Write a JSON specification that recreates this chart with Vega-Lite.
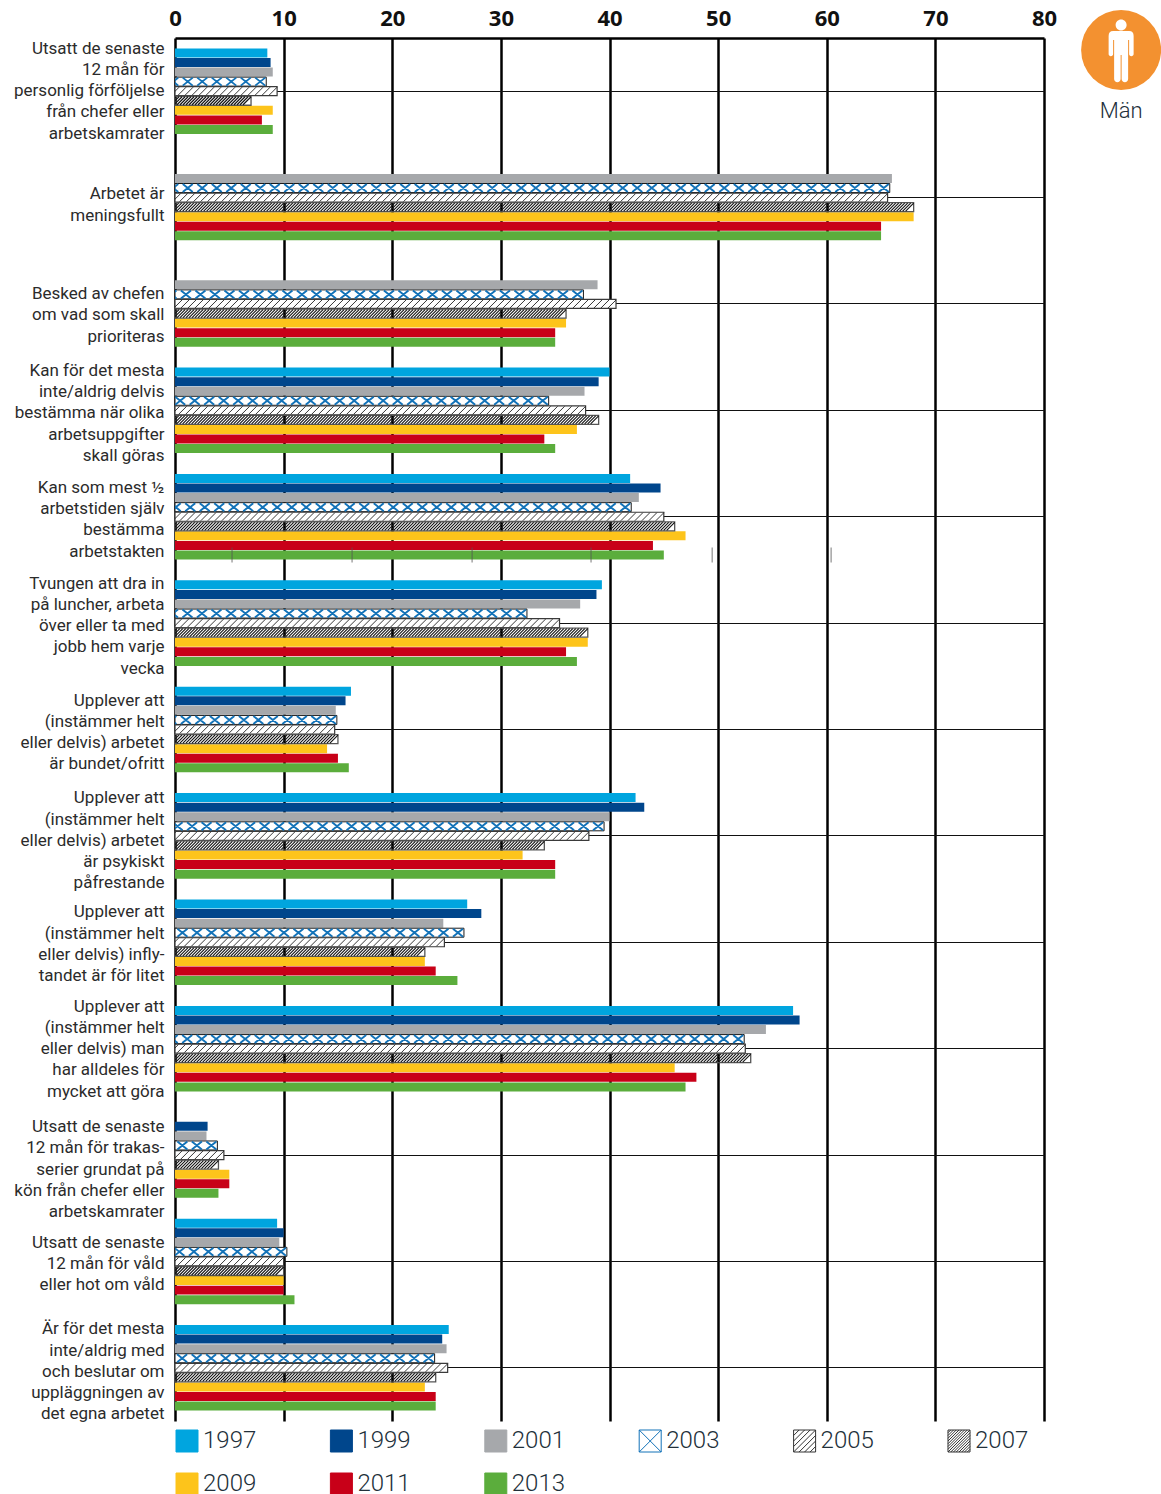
{"$schema":"https://vega.github.io/schema/vega-lite/v6.json","width":869,"height":1383,"autosize":{"type":"none"},"padding":{"left":175,"top":38,"right":117,"bottom":73},"background":"white","config":{"view":{"stroke":null},"font":"Roboto"},
"datasets":{"main":[
{"cat":"Utsatt de senaste|12 mån för|personlig förföljelse|från chefer eller|arbetskamrater","year":"1997","v":8.5},{"cat":"Utsatt de senaste|12 mån för|personlig förföljelse|från chefer eller|arbetskamrater","year":"1999","v":8.8},{"cat":"Utsatt de senaste|12 mån för|personlig förföljelse|från chefer eller|arbetskamrater","year":"2001","v":9},{"cat":"Utsatt de senaste|12 mån för|personlig förföljelse|från chefer eller|arbetskamrater","year":"2003","v":8.4},{"cat":"Utsatt de senaste|12 mån för|personlig förföljelse|från chefer eller|arbetskamrater","year":"2005","v":9.4},{"cat":"Utsatt de senaste|12 mån för|personlig förföljelse|från chefer eller|arbetskamrater","year":"2007","v":7},{"cat":"Utsatt de senaste|12 mån för|personlig förföljelse|från chefer eller|arbetskamrater","year":"2009","v":9},{"cat":"Utsatt de senaste|12 mån för|personlig förföljelse|från chefer eller|arbetskamrater","year":"2011","v":8},{"cat":"Utsatt de senaste|12 mån för|personlig förföljelse|från chefer eller|arbetskamrater","year":"2013","v":9},
{"cat":"Arbetet är|meningsfullt","year":"2001","v":66},{"cat":"Arbetet är|meningsfullt","year":"2003","v":65.8},{"cat":"Arbetet är|meningsfullt","year":"2005","v":65.6},{"cat":"Arbetet är|meningsfullt","year":"2007","v":68},{"cat":"Arbetet är|meningsfullt","year":"2009","v":68},{"cat":"Arbetet är|meningsfullt","year":"2011","v":65},{"cat":"Arbetet är|meningsfullt","year":"2013","v":65},
{"cat":"Besked av chefen|om vad som skall|prioriteras","year":"2001","v":38.9},{"cat":"Besked av chefen|om vad som skall|prioriteras","year":"2003","v":37.6},{"cat":"Besked av chefen|om vad som skall|prioriteras","year":"2005","v":40.6},{"cat":"Besked av chefen|om vad som skall|prioriteras","year":"2007","v":36},{"cat":"Besked av chefen|om vad som skall|prioriteras","year":"2009","v":36},{"cat":"Besked av chefen|om vad som skall|prioriteras","year":"2011","v":35},{"cat":"Besked av chefen|om vad som skall|prioriteras","year":"2013","v":35},
{"cat":"Kan för det mesta|inte/aldrig delvis|bestämma när olika|arbetsuppgifter|skall göras","year":"1997","v":40},{"cat":"Kan för det mesta|inte/aldrig delvis|bestämma när olika|arbetsuppgifter|skall göras","year":"1999","v":39},{"cat":"Kan för det mesta|inte/aldrig delvis|bestämma när olika|arbetsuppgifter|skall göras","year":"2001","v":37.7},{"cat":"Kan för det mesta|inte/aldrig delvis|bestämma när olika|arbetsuppgifter|skall göras","year":"2003","v":34.4},{"cat":"Kan för det mesta|inte/aldrig delvis|bestämma när olika|arbetsuppgifter|skall göras","year":"2005","v":37.8},{"cat":"Kan för det mesta|inte/aldrig delvis|bestämma när olika|arbetsuppgifter|skall göras","year":"2007","v":39},{"cat":"Kan för det mesta|inte/aldrig delvis|bestämma när olika|arbetsuppgifter|skall göras","year":"2009","v":37},{"cat":"Kan för det mesta|inte/aldrig delvis|bestämma när olika|arbetsuppgifter|skall göras","year":"2011","v":34},{"cat":"Kan för det mesta|inte/aldrig delvis|bestämma när olika|arbetsuppgifter|skall göras","year":"2013","v":35},
{"cat":"Kan som mest ½|arbetstiden själv|bestämma|arbetstakten","year":"1997","v":41.9},{"cat":"Kan som mest ½|arbetstiden själv|bestämma|arbetstakten","year":"1999","v":44.7},{"cat":"Kan som mest ½|arbetstiden själv|bestämma|arbetstakten","year":"2001","v":42.7},{"cat":"Kan som mest ½|arbetstiden själv|bestämma|arbetstakten","year":"2003","v":42},{"cat":"Kan som mest ½|arbetstiden själv|bestämma|arbetstakten","year":"2005","v":45},{"cat":"Kan som mest ½|arbetstiden själv|bestämma|arbetstakten","year":"2007","v":46},{"cat":"Kan som mest ½|arbetstiden själv|bestämma|arbetstakten","year":"2009","v":47},{"cat":"Kan som mest ½|arbetstiden själv|bestämma|arbetstakten","year":"2011","v":44},{"cat":"Kan som mest ½|arbetstiden själv|bestämma|arbetstakten","year":"2013","v":45},
{"cat":"Tvungen att dra in|på luncher, arbeta|över eller ta med|jobb hem varje|vecka","year":"1997","v":39.3},{"cat":"Tvungen att dra in|på luncher, arbeta|över eller ta med|jobb hem varje|vecka","year":"1999","v":38.8},{"cat":"Tvungen att dra in|på luncher, arbeta|över eller ta med|jobb hem varje|vecka","year":"2001","v":37.3},{"cat":"Tvungen att dra in|på luncher, arbeta|över eller ta med|jobb hem varje|vecka","year":"2003","v":32.4},{"cat":"Tvungen att dra in|på luncher, arbeta|över eller ta med|jobb hem varje|vecka","year":"2005","v":35.4},{"cat":"Tvungen att dra in|på luncher, arbeta|över eller ta med|jobb hem varje|vecka","year":"2007","v":38},{"cat":"Tvungen att dra in|på luncher, arbeta|över eller ta med|jobb hem varje|vecka","year":"2009","v":38},{"cat":"Tvungen att dra in|på luncher, arbeta|över eller ta med|jobb hem varje|vecka","year":"2011","v":36},{"cat":"Tvungen att dra in|på luncher, arbeta|över eller ta med|jobb hem varje|vecka","year":"2013","v":37},
{"cat":"Upplever att|(instämmer helt|eller delvis) arbetet|är bundet/ofritt","year":"1997","v":16.2},{"cat":"Upplever att|(instämmer helt|eller delvis) arbetet|är bundet/ofritt","year":"1999","v":15.7},{"cat":"Upplever att|(instämmer helt|eller delvis) arbetet|är bundet/ofritt","year":"2001","v":14.8},{"cat":"Upplever att|(instämmer helt|eller delvis) arbetet|är bundet/ofritt","year":"2003","v":14.9},{"cat":"Upplever att|(instämmer helt|eller delvis) arbetet|är bundet/ofritt","year":"2005","v":14.7},{"cat":"Upplever att|(instämmer helt|eller delvis) arbetet|är bundet/ofritt","year":"2007","v":15},{"cat":"Upplever att|(instämmer helt|eller delvis) arbetet|är bundet/ofritt","year":"2009","v":14},{"cat":"Upplever att|(instämmer helt|eller delvis) arbetet|är bundet/ofritt","year":"2011","v":15},{"cat":"Upplever att|(instämmer helt|eller delvis) arbetet|är bundet/ofritt","year":"2013","v":16},
{"cat":"Upplever att|(instämmer helt|eller delvis) arbetet|är psykiskt|påfrestande","year":"1997","v":42.4},{"cat":"Upplever att|(instämmer helt|eller delvis) arbetet|är psykiskt|påfrestande","year":"1999","v":43.2},{"cat":"Upplever att|(instämmer helt|eller delvis) arbetet|är psykiskt|påfrestande","year":"2001","v":40},{"cat":"Upplever att|(instämmer helt|eller delvis) arbetet|är psykiskt|påfrestande","year":"2003","v":39.5},{"cat":"Upplever att|(instämmer helt|eller delvis) arbetet|är psykiskt|påfrestande","year":"2005","v":38.1},{"cat":"Upplever att|(instämmer helt|eller delvis) arbetet|är psykiskt|påfrestande","year":"2007","v":34},{"cat":"Upplever att|(instämmer helt|eller delvis) arbetet|är psykiskt|påfrestande","year":"2009","v":32},{"cat":"Upplever att|(instämmer helt|eller delvis) arbetet|är psykiskt|påfrestande","year":"2011","v":35},{"cat":"Upplever att|(instämmer helt|eller delvis) arbetet|är psykiskt|påfrestande","year":"2013","v":35},
{"cat":"Upplever att|(instämmer helt|eller delvis) infly-|tandet är för litet","year":"1997","v":26.9},{"cat":"Upplever att|(instämmer helt|eller delvis) infly-|tandet är för litet","year":"1999","v":28.2},{"cat":"Upplever att|(instämmer helt|eller delvis) infly-|tandet är för litet","year":"2001","v":24.7},{"cat":"Upplever att|(instämmer helt|eller delvis) infly-|tandet är för litet","year":"2003","v":26.6},{"cat":"Upplever att|(instämmer helt|eller delvis) infly-|tandet är för litet","year":"2005","v":24.8},{"cat":"Upplever att|(instämmer helt|eller delvis) infly-|tandet är för litet","year":"2007","v":23},{"cat":"Upplever att|(instämmer helt|eller delvis) infly-|tandet är för litet","year":"2009","v":23},{"cat":"Upplever att|(instämmer helt|eller delvis) infly-|tandet är för litet","year":"2011","v":24},{"cat":"Upplever att|(instämmer helt|eller delvis) infly-|tandet är för litet","year":"2013","v":26},
{"cat":"Upplever att|(instämmer helt|eller delvis) man|har alldeles för|mycket att göra","year":"1997","v":56.9},{"cat":"Upplever att|(instämmer helt|eller delvis) man|har alldeles för|mycket att göra","year":"1999","v":57.5},{"cat":"Upplever att|(instämmer helt|eller delvis) man|har alldeles för|mycket att göra","year":"2001","v":54.4},{"cat":"Upplever att|(instämmer helt|eller delvis) man|har alldeles för|mycket att göra","year":"2003","v":52.4},{"cat":"Upplever att|(instämmer helt|eller delvis) man|har alldeles för|mycket att göra","year":"2005","v":52.5},{"cat":"Upplever att|(instämmer helt|eller delvis) man|har alldeles för|mycket att göra","year":"2007","v":53},{"cat":"Upplever att|(instämmer helt|eller delvis) man|har alldeles för|mycket att göra","year":"2009","v":46},{"cat":"Upplever att|(instämmer helt|eller delvis) man|har alldeles för|mycket att göra","year":"2011","v":48},{"cat":"Upplever att|(instämmer helt|eller delvis) man|har alldeles för|mycket att göra","year":"2013","v":47},
{"cat":"Utsatt de senaste|12 mån för trakas-|serier grundat på|kön från chefer eller|arbetskamrater","year":"1999","v":3},{"cat":"Utsatt de senaste|12 mån för trakas-|serier grundat på|kön från chefer eller|arbetskamrater","year":"2001","v":2.9},{"cat":"Utsatt de senaste|12 mån för trakas-|serier grundat på|kön från chefer eller|arbetskamrater","year":"2003","v":3.9},{"cat":"Utsatt de senaste|12 mån för trakas-|serier grundat på|kön från chefer eller|arbetskamrater","year":"2005","v":4.5},{"cat":"Utsatt de senaste|12 mån för trakas-|serier grundat på|kön från chefer eller|arbetskamrater","year":"2007","v":4},{"cat":"Utsatt de senaste|12 mån för trakas-|serier grundat på|kön från chefer eller|arbetskamrater","year":"2009","v":5},{"cat":"Utsatt de senaste|12 mån för trakas-|serier grundat på|kön från chefer eller|arbetskamrater","year":"2011","v":5},{"cat":"Utsatt de senaste|12 mån för trakas-|serier grundat på|kön från chefer eller|arbetskamrater","year":"2013","v":4},
{"cat":"Utsatt de senaste|12 mån för våld|eller hot om våld","year":"1997","v":9.4},{"cat":"Utsatt de senaste|12 mån för våld|eller hot om våld","year":"1999","v":10},{"cat":"Utsatt de senaste|12 mån för våld|eller hot om våld","year":"2001","v":9.6},{"cat":"Utsatt de senaste|12 mån för våld|eller hot om våld","year":"2003","v":10.3},{"cat":"Utsatt de senaste|12 mån för våld|eller hot om våld","year":"2005","v":10},{"cat":"Utsatt de senaste|12 mån för våld|eller hot om våld","year":"2007","v":10},{"cat":"Utsatt de senaste|12 mån för våld|eller hot om våld","year":"2009","v":10},{"cat":"Utsatt de senaste|12 mån för våld|eller hot om våld","year":"2011","v":10},{"cat":"Utsatt de senaste|12 mån för våld|eller hot om våld","year":"2013","v":11},
{"cat":"Är för det mesta|inte/aldrig med|och beslutar om|uppläggningen av|det egna arbetet","year":"1997","v":25.2},{"cat":"Är för det mesta|inte/aldrig med|och beslutar om|uppläggningen av|det egna arbetet","year":"1999","v":24.6},{"cat":"Är för det mesta|inte/aldrig med|och beslutar om|uppläggningen av|det egna arbetet","year":"2001","v":25},{"cat":"Är för det mesta|inte/aldrig med|och beslutar om|uppläggningen av|det egna arbetet","year":"2003","v":23.9},{"cat":"Är för det mesta|inte/aldrig med|och beslutar om|uppläggningen av|det egna arbetet","year":"2005","v":25.1},{"cat":"Är för det mesta|inte/aldrig med|och beslutar om|uppläggningen av|det egna arbetet","year":"2007","v":24},{"cat":"Är för det mesta|inte/aldrig med|och beslutar om|uppläggningen av|det egna arbetet","year":"2009","v":23},{"cat":"Är för det mesta|inte/aldrig med|och beslutar om|uppläggningen av|det egna arbetet","year":"2011","v":24},{"cat":"Är för det mesta|inte/aldrig med|och beslutar om|uppläggningen av|det egna arbetet","year":"2013","v":24}
],
"stray":[{"cat":"Kan som mest ½|arbetstiden själv|bestämma|arbetstakten","year":"2013","v":5.25},{"cat":"Kan som mest ½|arbetstiden själv|bestämma|arbetstakten","year":"2013","v":16.3},{"cat":"Kan som mest ½|arbetstiden själv|bestämma|arbetstakten","year":"2013","v":27.35},{"cat":"Kan som mest ½|arbetstiden själv|bestämma|arbetstakten","year":"2013","v":38.3},{"cat":"Kan som mest ½|arbetstiden själv|bestämma|arbetstakten","year":"2013","v":49.45},{"cat":"Kan som mest ½|arbetstiden själv|bestämma|arbetstakten","year":"2013","v":60.4}],
"icon":[{"v":87.1,"cat":"Utsatt de senaste|12 mån för|personlig förföljelse|från chefer eller|arbetskamrater","year":"2003","label":"Män"}]},
"data":{"name":"main"},
"encoding":{
"x":{"field":"v","type":"quantitative","title":null,"scale":{"domain":[0,80],"nice":false},"axis":{"orient":"top","values":[0,10,20,30,40,50,60,70,80],"grid":true,"gridColor":"#000000","gridWidth":2.5,"gridOpacity":1,"ticks":false,"domain":true,"domainColor":"#000000","domainWidth":2.5,"labelFont":"Open Sans","labelFontWeight":"bold","labelFontSize":22,"labelColor":"#111111","labelPadding":8,"labelFlush":false,"title":null}},
"y":{"field":"cat","type":"nominal","title":null,"scale":{"paddingInner":0.196,"paddingOuter":0.098,"domain":["Utsatt de senaste|12 mån för|personlig förföljelse|från chefer eller|arbetskamrater","Arbetet är|meningsfullt","Besked av chefen|om vad som skall|prioriteras","Kan för det mesta|inte/aldrig delvis|bestämma när olika|arbetsuppgifter|skall göras","Kan som mest ½|arbetstiden själv|bestämma|arbetstakten","Tvungen att dra in|på luncher, arbeta|över eller ta med|jobb hem varje|vecka","Upplever att|(instämmer helt|eller delvis) arbetet|är bundet/ofritt","Upplever att|(instämmer helt|eller delvis) arbetet|är psykiskt|påfrestande","Upplever att|(instämmer helt|eller delvis) infly-|tandet är för litet","Upplever att|(instämmer helt|eller delvis) man|har alldeles för|mycket att göra","Utsatt de senaste|12 mån för trakas-|serier grundat på|kön från chefer eller|arbetskamrater","Utsatt de senaste|12 mån för våld|eller hot om våld","Är för det mesta|inte/aldrig med|och beslutar om|uppläggningen av|det egna arbetet"]},"axis":{"grid":true,"gridColor":"#111111","gridWidth":1.2,"gridOpacity":1,"ticks":false,"domain":false,"title":null,"labelExpr":"split(datum.label,'|')","labelFontSize":17,"labelLineHeight":21.3,"labelColor":"#2b2b2b","labelPadding":11,"labelLimit":0,"labelFont":"Roboto","labelOffset":{"expr":"(1-length(split(datum.value,'|')))*10.65+(test(/personlig/,datum.value)?0:test(/^Arbetet/,datum.value)?7.5:test(/^Besked/,datum.value)?11.5:test(/trakas/,datum.value)?14.5:test(/psykiskt/,datum.value)?5:test(/infly/,datum.value)?2:test(/mycket/,datum.value)?0.5:test(/våld/,datum.value)?2.5:test(/^Är/,datum.value)?4:3)"}}},
"yOffset":{"field":"year","type":"nominal","title":null,"scale":{"domain":["1997","1999","2001","2003","2005","2007","2009","2011","2013"],"paddingInner":0.06,"paddingOuter":0}}
},
"layer":[
{"transform":[{"filter":"indexof(['1997','1999','2001','2009','2011','2013'],datum.year)>=0"}],"mark":{"type":"bar"},"encoding":{"fill":{"field":"year","type":"nominal","scale":{"domain":["1997","1999","2001","2003","2005","2007","2009","2011","2013"],"range":["#00A5DF","#00468C","#A6A8AB","#ffffff","#ffffff","#ffffff","#FDC41B","#C80018","#5BAD3C"]},"legend":{"orient":"none","legendX":0,"legendY":1391,"columns":6,"direction":"horizontal","title":null,"symbolSize":4,"symbolStrokeWidth":1,"symbolOpacity":1,"labelFont":"Roboto","labelFontWeight":300,"labelFontSize":24,"labelColor":"#22303a","labelOffset":4,"columnPadding":71.4,"rowPadding":17,"gridAlign":"all","encode":{"symbols":{"update":{"fill":{"scale":"fill","field":"value"}}}}}}}},
{"transform":[{"filter":"datum.year=='2003'"}],"mark":{"type":"bar","fill":"#ffffff","stroke":"#1a1a1a","strokeWidth":1}},
{"transform":[{"filter":"datum.year=='2005'"}],"mark":{"type":"bar","fill":"#ffffff","stroke":"#3a3a3a","strokeWidth":1.2}},
{"transform":[{"filter":"datum.year=='2007'"}],"mark":{"type":"bar","fill":"transparent","stroke":"#555555","strokeWidth":1.3}},
{"transform":[{"filter":"datum.year=='2003'"}],"mark":{"type":"point","clip":true,"filled":false,"opacity":1,"size":4,"stroke":"#1272B8","strokeWidth":1.9,"shape":"M-11-4l10 8m-10 0l10-8m-24.5 0l10 8m-10 0l10-8m-24.5 0l10 8m-10 0l10-8m-24.5 0l10 8m-10 0l10-8m-24.5 0l10 8m-10 0l10-8m-24.5 0l10 8m-10 0l10-8m-24.5 0l10 8m-10 0l10-8m-24.5 0l10 8m-10 0l10-8m-24.5 0l10 8m-10 0l10-8m-24.5 0l10 8m-10 0l10-8m-24.5 0l10 8m-10 0l10-8m-24.5 0l10 8m-10 0l10-8m-24.5 0l10 8m-10 0l10-8m-24.5 0l10 8m-10 0l10-8m-24.5 0l10 8m-10 0l10-8m-24.5 0l10 8m-10 0l10-8m-24.5 0l10 8m-10 0l10-8m-24.5 0l10 8m-10 0l10-8m-24.5 0l10 8m-10 0l10-8m-24.5 0l10 8m-10 0l10-8m-24.5 0l10 8m-10 0l10-8m-24.5 0l10 8m-10 0l10-8m-24.5 0l10 8m-10 0l10-8m-24.5 0l10 8m-10 0l10-8m-24.5 0l10 8m-10 0l10-8m-24.5 0l10 8m-10 0l10-8m-24.5 0l10 8m-10 0l10-8m-24.5 0l10 8m-10 0l10-8m-24.5 0l10 8m-10 0l10-8m-24.5 0l10 8m-10 0l10-8m-24.5 0l10 8m-10 0l10-8m-24.5 0l10 8m-10 0l10-8m-24.5 0l10 8m-10 0l10-8m-24.5 0l10 8m-10 0l10-8m-24.5 0l10 8m-10 0l10-8m-24.5 0l10 8m-10 0l10-8m-24.5 0l10 8m-10 0l10-8m-24.5 0l10 8m-10 0l10-8m-24.5 0l10 8m-10 0l10-8m-24.5 0l10 8m-10 0l10-8m-24.5 0l10 8m-10 0l10-8m-24.5 0l10 8m-10 0l10-8m-24.5 0l10 8m-10 0l10-8m-24.5 0l10 8m-10 0l10-8m-24.5 0l10 8m-10 0l10-8m-24.5 0l10 8m-10 0l10-8m-24.5 0l10 8m-10 0l10-8m-24.5 0l10 8m-10 0l10-8m-24.5 0l10 8m-10 0l10-8m-24.5 0l10 8m-10 0l10-8m-24.5 0l10 8m-10 0l10-8m-24.5 0l10 8m-10 0l10-8"}},
{"transform":[{"filter":"datum.year=='2005'"}],"mark":{"type":"point","clip":true,"filled":false,"opacity":1,"size":4,"stroke":"#222222","strokeWidth":0.9,"shape":"M-8 4l8-8m-15 8l8-8m-15 8l8-8m-15 8l8-8m-15 8l8-8m-15 8l8-8m-15 8l8-8m-15 8l8-8m-15 8l8-8m-15 8l8-8m-15 8l8-8m-15 8l8-8m-15 8l8-8m-15 8l8-8m-15 8l8-8m-15 8l8-8m-15 8l8-8m-15 8l8-8m-15 8l8-8m-15 8l8-8m-15 8l8-8m-15 8l8-8m-15 8l8-8m-15 8l8-8m-15 8l8-8m-15 8l8-8m-15 8l8-8m-15 8l8-8m-15 8l8-8m-15 8l8-8m-15 8l8-8m-15 8l8-8m-15 8l8-8m-15 8l8-8m-15 8l8-8m-15 8l8-8m-15 8l8-8m-15 8l8-8m-15 8l8-8m-15 8l8-8m-15 8l8-8m-15 8l8-8m-15 8l8-8m-15 8l8-8m-15 8l8-8m-15 8l8-8m-15 8l8-8m-15 8l8-8m-15 8l8-8m-15 8l8-8m-15 8l8-8m-15 8l8-8m-15 8l8-8m-15 8l8-8m-15 8l8-8m-15 8l8-8m-15 8l8-8m-15 8l8-8m-15 8l8-8m-15 8l8-8m-15 8l8-8m-15 8l8-8m-15 8l8-8m-15 8l8-8m-15 8l8-8m-15 8l8-8m-15 8l8-8m-15 8l8-8m-15 8l8-8m-15 8l8-8m-15 8l8-8m-15 8l8-8m-15 8l8-8m-15 8l8-8m-15 8l8-8m-15 8l8-8m-15 8l8-8m-15 8l8-8m-15 8l8-8m-15 8l8-8m-15 8l8-8m-15 8l8-8m-15 8l8-8m-15 8l8-8m-15 8l8-8m-15 8l8-8m-15 8l8-8m-15 8l8-8m-15 8l8-8m-15 8l8-8m-15 8l8-8m-15 8l8-8m-15 8l8-8m-15 8l8-8m-15 8l8-8m-15 8l8-8m-15 8l8-8m-15 8l8-8m-15 8l8-8m-15 8l8-8m-15 8l8-8m-15 8l8-8m-15 8l8-8m-15 8l8-8m-15 8l8-8m-15 8l8-8m-15 8l8-8m-15 8l8-8m-15 8l8-8m-15 8l8-8m-15 8l8-8m-15 8l8-8m-15 8l8-8m-15 8l8-8m-15 8l8-8"}},
{"transform":[{"filter":"datum.year=='2007'"}],"mark":{"type":"point","clip":true,"filled":false,"opacity":1,"size":4,"stroke":"#111111","strokeWidth":1.1,"shape":"M-8 4l8-8m-11 8l8-8m-11 8l8-8m-11 8l8-8m-11 8l8-8m-11 8l8-8m-11 8l8-8m-11 8l8-8m-11 8l8-8m-11 8l8-8m-11 8l8-8m-11 8l8-8m-11 8l8-8m-11 8l8-8m-11 8l8-8m-11 8l8-8m-11 8l8-8m-11 8l8-8m-11 8l8-8m-11 8l8-8m-11 8l8-8m-11 8l8-8m-11 8l8-8m-11 8l8-8m-11 8l8-8m-11 8l8-8m-11 8l8-8m-11 8l8-8m-11 8l8-8m-11 8l8-8m-11 8l8-8m-11 8l8-8m-11 8l8-8m-11 8l8-8m-11 8l8-8m-11 8l8-8m-11 8l8-8m-11 8l8-8m-11 8l8-8m-11 8l8-8m-11 8l8-8m-11 8l8-8m-11 8l8-8m-11 8l8-8m-11 8l8-8m-11 8l8-8m-11 8l8-8m-11 8l8-8m-11 8l8-8m-11 8l8-8m-11 8l8-8m-11 8l8-8m-11 8l8-8m-11 8l8-8m-11 8l8-8m-11 8l8-8m-11 8l8-8m-11 8l8-8m-11 8l8-8m-11 8l8-8m-11 8l8-8m-11 8l8-8m-11 8l8-8m-11 8l8-8m-11 8l8-8m-11 8l8-8m-11 8l8-8m-11 8l8-8m-11 8l8-8m-11 8l8-8m-11 8l8-8m-11 8l8-8m-11 8l8-8m-11 8l8-8m-11 8l8-8m-11 8l8-8m-11 8l8-8m-11 8l8-8m-11 8l8-8m-11 8l8-8m-11 8l8-8m-11 8l8-8m-11 8l8-8m-11 8l8-8m-11 8l8-8m-11 8l8-8m-11 8l8-8m-11 8l8-8m-11 8l8-8m-11 8l8-8m-11 8l8-8m-11 8l8-8m-11 8l8-8m-11 8l8-8m-11 8l8-8m-11 8l8-8m-11 8l8-8m-11 8l8-8m-11 8l8-8m-11 8l8-8m-11 8l8-8m-11 8l8-8m-11 8l8-8m-11 8l8-8m-11 8l8-8m-11 8l8-8m-11 8l8-8m-11 8l8-8m-11 8l8-8m-11 8l8-8m-11 8l8-8m-11 8l8-8m-11 8l8-8m-11 8l8-8m-11 8l8-8m-11 8l8-8m-11 8l8-8m-11 8l8-8m-11 8l8-8m-11 8l8-8m-11 8l8-8m-11 8l8-8m-11 8l8-8m-11 8l8-8m-11 8l8-8m-11 8l8-8m-11 8l8-8m-11 8l8-8m-11 8l8-8m-11 8l8-8m-11 8l8-8m-11 8l8-8m-11 8l8-8m-11 8l8-8m-11 8l8-8m-11 8l8-8m-11 8l8-8m-11 8l8-8m-11 8l8-8m-11 8l8-8m-11 8l8-8m-11 8l8-8m-11 8l8-8m-11 8l8-8m-11 8l8-8m-11 8l8-8m-11 8l8-8m-11 8l8-8m-11 8l8-8m-11 8l8-8m-11 8l8-8m-11 8l8-8m-11 8l8-8m-11 8l8-8m-11 8l8-8m-11 8l8-8m-11 8l8-8m-11 8l8-8m-11 8l8-8m-11 8l8-8m-11 8l8-8m-11 8l8-8m-11 8l8-8m-11 8l8-8m-11 8l8-8m-11 8l8-8m-11 8l8-8m-11 8l8-8m-11 8l8-8m-11 8l8-8m-11 8l8-8m-11 8l8-8m-11 8l8-8m-11 8l8-8m-11 8l8-8m-11 8l8-8m-11 8l8-8m-11 8l8-8m-11 8l8-8m-11 8l8-8m-11 8l8-8m-11 8l8-8m-11 8l8-8m-11 8l8-8m-11 8l8-8m-11 8l8-8m-11 8l8-8m-11 8l8-8m-11 8l8-8m-11 8l8-8m-11 8l8-8m-11 8l8-8m-11 8l8-8m-11 8l8-8m-11 8l8-8m-11 8l8-8m-11 8l8-8m-11 8l8-8m-11 8l8-8m-11 8l8-8m-11 8l8-8m-11 8l8-8m-11 8l8-8m-11 8l8-8m-11 8l8-8m-11 8l8-8m-11 8l8-8m-11 8l8-8m-11 8l8-8m-11 8l8-8m-11 8l8-8m-11 8l8-8m-11 8l8-8m-11 8l8-8m-11 8l8-8m-11 8l8-8m-11 8l8-8m-11 8l8-8m-11 8l8-8m-11 8l8-8m-11 8l8-8m-11 8l8-8m-11 8l8-8m-11 8l8-8m-11 8l8-8m-11 8l8-8m-11 8l8-8m-11 8l8-8m-11 8l8-8m-11 8l8-8m-11 8l8-8m-11 8l8-8m-11 8l8-8m-11 8l8-8m-11 8l8-8m-11 8l8-8m-11 8l8-8m-11 8l8-8m-11 8l8-8m-11 8l8-8m-11 8l8-8m-11 8l8-8m-11 8l8-8m-11 8l8-8m-11 8l8-8m-11 8l8-8m-11 8l8-8m-11 8l8-8m-11 8l8-8m-11 8l8-8m-11 8l8-8m-11 8l8-8m-11 8l8-8m-11 8l8-8m-11 8l8-8m-11 8l8-8m-11 8l8-8m-11 8l8-8m-11 8l8-8m-11 8l8-8m-11 8l8-8m-11 8l8-8m-11 8l8-8m-11 8l8-8m-11 8l8-8m-11 8l8-8m-11 8l8-8m-11 8l8-8m-11 8l8-8m-11 8l8-8m-11 8l8-8m-11 8l8-8m-11 8l8-8m-11 8l8-8m-11 8l8-8m-11 8l8-8m-11 8l8-8m-11 8l8-8m-11 8l8-8m-11 8l8-8m-11 8l8-8m-11 8l8-8m-11 8l8-8m-11 8l8-8m-11 8l8-8m-11 8l8-8m-11 8l8-8m-11 8l8-8m-11 8l8-8m-11 8l8-8m-11 8l8-8"}},
{"data":{"name":"stray"},"mark":{"type":"tick","color":"#555555","thickness":1,"size":15,"opacity":0.8}},
{"mark":{"type":"point","filled":true,"size":1,"opacity":0},"encoding":{
"fill":{"field":"year","type":"nominal","scale":{"domain":["1997","1999","2001","2003","2005","2007","2009","2011","2013"],"range":["#00A5DF","#00468C","#A6A8AB","#ffffff","#ffffff","#ffffff","#FDC41B","#C80018","#5BAD3C"]},"legend":{"orient":"none","legendX":0,"legendY":1391,"columns":6,"direction":"horizontal","title":null,"symbolSize":4,"symbolStrokeWidth":1,"symbolOpacity":1,"labelFont":"Roboto","labelFontWeight":300,"labelFontSize":24,"labelColor":"#22303a","labelOffset":4,"columnPadding":71.4,"rowPadding":17,"gridAlign":"all","encode":{"symbols":{"update":{"fill":{"scale":"fill","field":"value"}}}}}},
"stroke":{"field":"year","type":"nominal","scale":{"domain":["1997","1999","2001","2003","2005","2007","2009","2011","2013"],"range":["#00A5DF","#00468C","#A6A8AB","#1272B8","#333333","#333333","#FDC41B","#C80018","#5BAD3C"]},"legend":{"title":null,"encode":{"symbols":{"update":{"fill":{"scale":"fill","field":"value"}}}}}},
"shape":{"field":"year","type":"nominal","scale":{"domain":["1997","1999","2001","2003","2005","2007","2009","2011","2013"],"range":["M-11-11h22v22h-22v-22","M-11-11h22v22h-22v-22","M-11-11h22v22h-22v-22","M-11-11h22v22h-22v-22M-11-11L11 11M-11 11L11-11","M-11-11h22v22h-22v-22M-11-5.5L-5.5-11M-11 0L0-11M-11 5.5L5.5-11M-11 11L11-11M-5.5 11L11-5.5M0 11L11 0M5.5 11L11 5.5","M-11-11h22v22h-22v-22M-11-8.25L-8.25-11M-11-5.5L-5.5-11M-11-2.75L-2.75-11M-11 0L0-11M-11 2.75L2.75-11M-11 5.5L5.5-11M-11 8.25L8.25-11M-11 11L11-11M-8.25 11L11-8.25M-5.5 11L11-5.5M-2.75 11L11-2.75M0 11L11 0M2.75 11L11 2.75M5.5 11L11 5.5M8.25 11L11 8.25","M-11-11h22v22h-22v-22","M-11-11h22v22h-22v-22","M-11-11h22v22h-22v-22"]},"legend":{"title":null,"encode":{"symbols":{"update":{"fill":{"scale":"fill","field":"value"}}}}}}
}},
{"data":{"name":"icon"},"mark":{"type":"point","filled":true,"size":6400,"color":"#F39130","opacity":1},"encoding":{"yOffset":{"value":1.5}}},
{"data":{"name":"icon"},"mark":{"type":"point","filled":true,"size":4,"color":"#ffffff","opacity":1,"shape":"M-8-19H8Q12.5-19 12.5-14V4a2.2 2.2 0 0 1-4.5 0V-10H7V29a3.2 3.2 0 0 1-6.5 0V5H-.5V29a3.2 3.2 0 0 1-6.5 0V-10H-8V4a2.2 2.2 0 0 1-4.5 0V-14Q-12.5-19-8-19M-5.5-25a5.5 5.5 0 1 0 11 0a5.5 5.5 0 1 0-11 0"},"encoding":{"yOffset":{"value":1.5}}},
{"data":{"name":"icon"},"mark":{"type":"text","font":"Roboto","fontWeight":300,"fontSize":22,"color":"#22303a"},"encoding":{"text":{"field":"label"},"yOffset":{"value":63}}}
]}
